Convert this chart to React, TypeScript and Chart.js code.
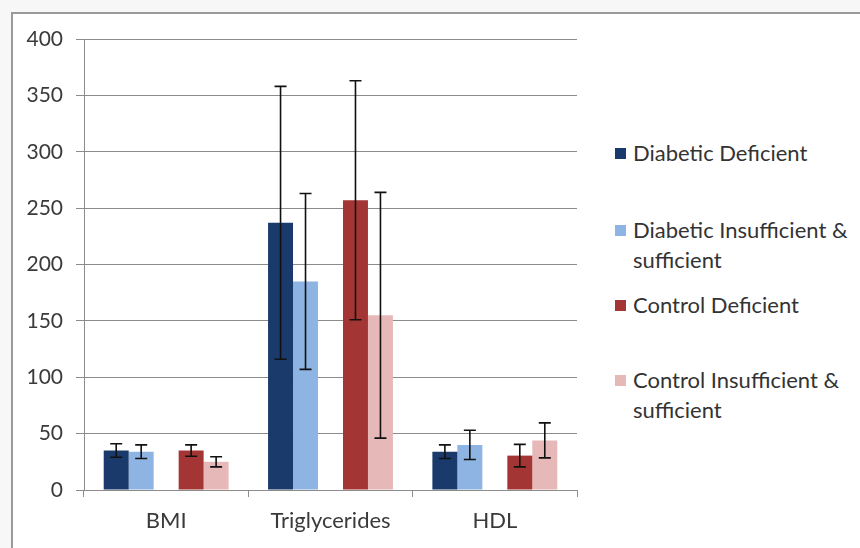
import React, { useEffect, useRef } from "react";
import { Chart, registerables } from "chart.js";

Chart.register(...registerables);

const categories = ["BMI", "Triglycerides", "HDL"];
const seriesNames = [
  "Diabetic Deficient",
  "Diabetic Insufficient & sufficient",
  "Control Deficient",
  "Control Insufficient & sufficient",
];
const legendLines = [
  ["Diabetic Deficient"],
  ["Diabetic Insufficient &", "sufficient"],
  ["Control Deficient"],
  ["Control Insufficient &", "sufficient"],
];
const diabeticDeficient = [35, 237, 34];
const diabeticDeficientErr = [6, 121, 6];
const diabeticInsufficient = [34, 185, 40];
const diabeticInsufficientErr = [6, 78, 13];
const controlDeficient = [35, 257, 30.5];
const controlDeficientErr = [5, 106, 10];
const controlInsufficient = [25, 155, 44];
const controlInsufficientErr = [4.5, 109, 15.5];
const yTicks = [0, 50, 100, 150, 200, 250, 300, 350, 400];

const colors = ["#1A3A6C", "#8EB4E3", "#A33635", "#E6B9B8"];
const FONT = "Lato, 'Open Sans', sans-serif";

const errorBarPlugin = {
  id: "errorBars",
  afterDatasetsDraw(chart: any) {
    const ctx = chart.ctx;
    const yScale = chart.scales.y;
    ctx.save();
    ctx.strokeStyle = "#111";
    ctx.lineWidth = 1.6;
    chart.data.datasets.forEach((ds: any, i: number) => {
      if (!ds.errors) return;
      const meta = chart.getDatasetMeta(i);
      meta.data.forEach((el: any, j: number) => {
        const v = ds.data[j];
        const e = ds.errors[j];
        if (v == null || e == null) return;
        const x = el.x;
        const yt = yScale.getPixelForValue(v + e);
        const yb = yScale.getPixelForValue(v - e);
        ctx.beginPath();
        ctx.moveTo(x, yt);
        ctx.lineTo(x, yb);
        ctx.moveTo(x - 6, yt);
        ctx.lineTo(x + 6, yt);
        ctx.moveTo(x - 6, yb);
        ctx.lineTo(x + 6, yb);
        ctx.stroke();
      });
    });
    ctx.restore();
  },
};

export default function App() {
  const ref = useRef<HTMLCanvasElement>(null);
  useEffect(() => {
    if (!ref.current) return;
    const mk = (label: string, data: number[], errors: number[], color: string) => ({
      label,
      data,
      errors,
      backgroundColor: color,
      borderWidth: 0,
    });
    const chart = new Chart(ref.current, {
      type: "bar",
      data: {
        labels: categories,
        datasets: [
          mk(seriesNames[0], diabeticDeficient, diabeticDeficientErr, colors[0]),
          mk(seriesNames[1], diabeticInsufficient, diabeticInsufficientErr, colors[1]),
          { label: "", data: categories.map(() => null), backgroundColor: "transparent" } as any,
          mk(seriesNames[2], controlDeficient, controlDeficientErr, colors[2]),
          mk(seriesNames[3], controlInsufficient, controlInsufficientErr, colors[3]),
        ],
      },
      options: {
        animation: false,
        responsive: false,
        maintainAspectRatio: false,
        layout: { padding: { left: 0, top: 39, right: 23, bottom: 0 } },
        datasets: { bar: { categoryPercentage: 0.76, barPercentage: 1 } },
        plugins: { legend: { display: false }, tooltip: { enabled: false } },
        scales: {
          x: {
            grid: { offset: true, drawOnChartArea: false, tickLength: 7, color: "#8c8c8c" },
            border: { color: "#8c8c8c" },
            ticks: { font: { family: FONT, size: 22 }, color: "#3a3a3a", padding: 11 },
            afterFit: (s: any) => { s.height = 58; },
          },
          y: {
            min: 0,
            max: 400,
            afterBuildTicks: (s: any) => { s.ticks = yTicks.map((v) => ({ value: v })); },
            grid: { color: "#8c8c8c", tickLength: 8 },
            border: { color: "#8c8c8c" },
            ticks: { font: { family: FONT, size: 21 }, color: "#3a3a3a", padding: 13 },
            afterFit: (s: any) => { s.width = 84; },
          },
        },
      },
      plugins: [errorBarPlugin],
    });
    return () => chart.destroy();
  }, []);

  const tops = [[153], [230, 260], [305], [380, 410]];
  return (
    <div style={{ position: "fixed", left: 0, top: 0, width: 860, height: 548, background: "#f7f7f7", overflow: "hidden", fontFamily: FONT }}>
      <div style={{ position: "absolute", left: 11, top: 12, width: 900, height: 600, borderTop: "2px solid #9a9a9a", borderLeft: "2px solid #9a9a9a", background: "#fff" }} />
      <canvas ref={ref} width={600} height={548} style={{ position: "absolute", left: 0, top: 0, width: 600, height: 548 }} />
      {legendLines.map((lines, i) => (
        <React.Fragment key={i}>
          <div style={{ position: "absolute", left: 615, top: tops[i][0] - 5, width: 11, height: 11, background: colors[i] }} />
          {lines.map((t, k) => (
            <div key={k} style={{ position: "absolute", left: 633, top: tops[i][k] - 15, height: 30, lineHeight: "30px", fontSize: 22, color: "#333", whiteSpace: "nowrap" }}>{t}</div>
          ))}
        </React.Fragment>
      ))}
    </div>
  );
}
